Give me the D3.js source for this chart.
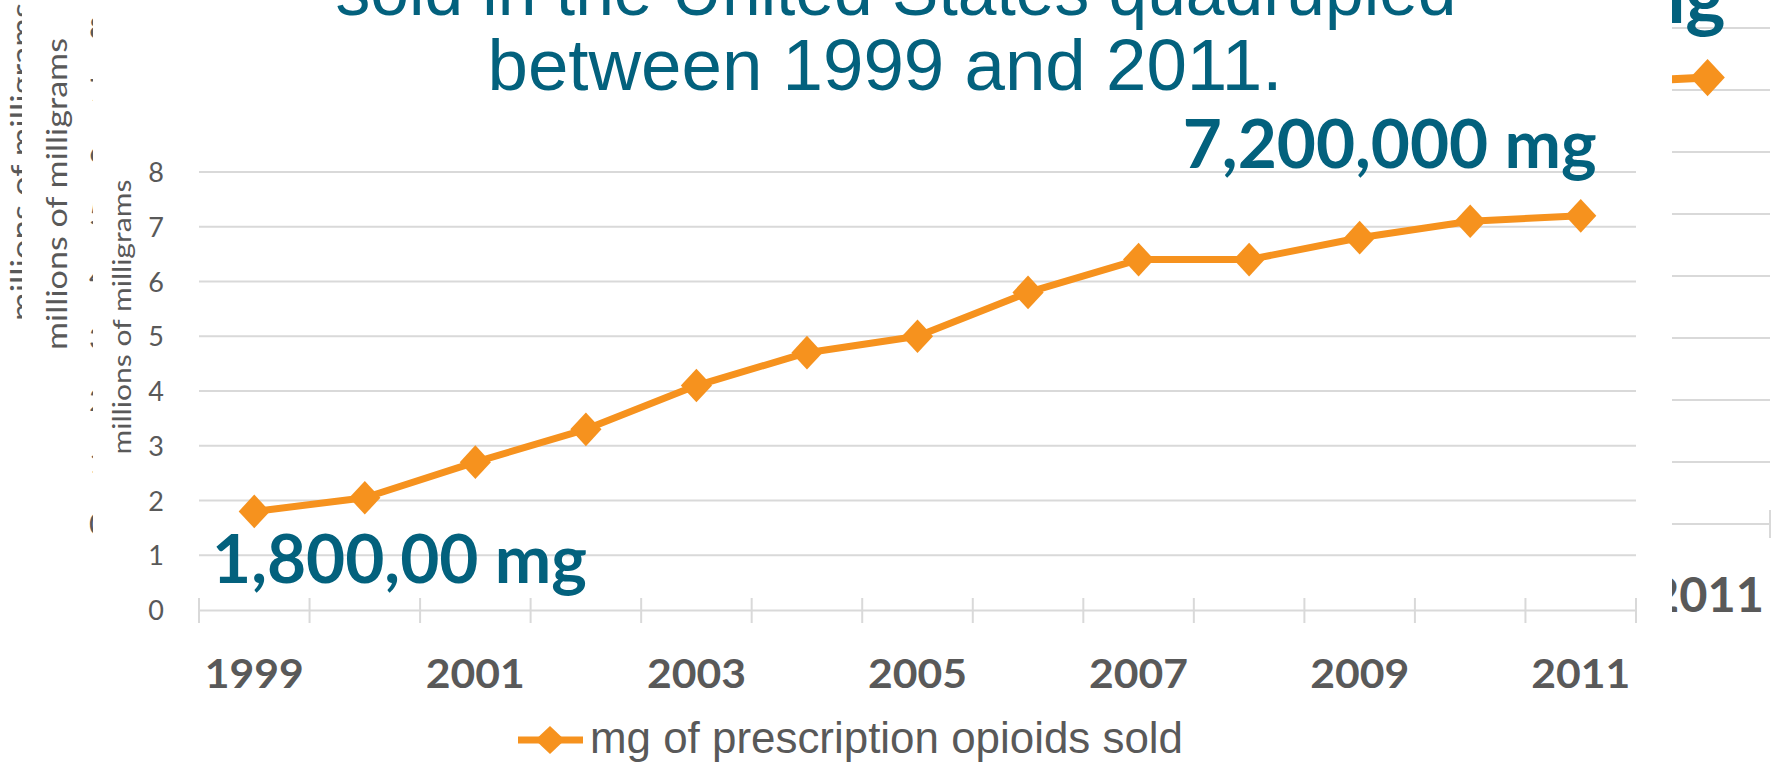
<!DOCTYPE html>
<html><head><meta charset="utf-8">
<script src="https://cdn.jsdelivr.net/npm/d3@7"></script>
<style>html,body{margin:0;padding:0;background:#fff;overflow:hidden}</style>
</head><body>
<svg id="c" width="1781" height="765"></svg>
<script>
// ---- data ----
const years = [1999,2000,2001,2002,2003,2004,2005,2006,2007,2008,2009,2010,2011];
const mgSold = [1.8,2.05,2.7,3.3,4.1,4.7,5.0,5.8,6.4,6.4,6.8,7.1,7.2];
const yTicks = [0,1,2,3,4,5,6,7,8];
const labeledYears = [1999,2001,2003,2005,2007,2009,2011];
const titleLines = ["sold in the United States quadrupled","between 1999 and 2011."];
const startLabel = "1,800,00 mg";
const endLabel = "7,200,000 mg";
const seriesName = "mg of prescription opioids sold";
const axisTitle = "millions of milligrams";

const data = years.map((yr,i)=>({year:yr, v:mgSold[i]}));
const TEAL = "#03617d", ORANGE = "#f6921e", GRAY = "#595959", GRID = "#d9d9d9";
const svg = d3.select("#c");
const defs = svg.append("defs");
defs.append("clipPath").attr("id","clipL3").append("rect").attr("x",0).attr("y",0).attr("width",22).attr("height",765);
defs.append("clipPath").attr("id","clipL").append("rect").attr("x",0).attr("y",0).attr("width",93).attr("height",765);
defs.append("clipPath").attr("id","clipR").append("rect").attr("x",1672).attr("y",0).attr("width",109).attr("height",765);

function diamond(sel, size){
  return sel.append("path").attr("d", d3.symbol(d3.symbolDiamond2, size)()).attr("fill", ORANGE);
}

// ---- ghost layers (an enlarged copy of the same chart behind the main one) ----
const G = 1.13;
const yG = d3.scaleLinear().domain([0,8]).range([524,28]);
const xG = d3.scaleBand().domain(years).range([1770-13*110.5*G,1770]);

svg.append("g").attr("clip-path","url(#clipL3)").append("text")
  .attr("transform","translate(33,162) rotate(-90)").attr("text-anchor","middle")
  .attr("font-family","Lato").attr("font-size",31).attr("fill",GRAY)
  .attr("textLength",318).attr("lengthAdjust","spacingAndGlyphs").text(axisTitle);

const gl = svg.append("g").attr("clip-path","url(#clipL)");
gl.append("text").attr("transform","translate(67,194) rotate(-90)").attr("text-anchor","middle")
  .attr("font-family","Lato").attr("font-size",28).attr("fill",GRAY)
  .attr("textLength",312).attr("lengthAdjust","spacingAndGlyphs").text(axisTitle);
gl.selectAll("text.gt").data(yTicks).join("text").attr("class","gt")
  .attr("x",107).attr("y",d=>yG(d)).attr("dy","0.36em").attr("text-anchor","end")
  .attr("font-family","Lato").attr("font-size",31).attr("fill",GRAY).text(d=>d);

const gr = svg.append("g").attr("clip-path","url(#clipR)");
gr.selectAll("line.gg").data(yTicks).join("line").attr("class","gg")
  .attr("x1",1660).attr("x2",xG.range()[1]).attr("y1",d=>yG(d)).attr("y2",d=>yG(d))
  .attr("stroke",GRID).attr("stroke-width",2);
gr.selectAll("line.gtk").data(years.map(d=>xG(d)).concat([xG.range()[1]])).join("line").attr("class","gtk")
  .attr("x1",d=>d).attr("x2",d=>d).attr("y1",yG(0)-14).attr("y2",yG(0)+14).attr("stroke",GRID).attr("stroke-width",2);
gr.append("path").datum(data)
  .attr("d", d3.line().x(d=>xG(d.year)+xG.bandwidth()/2).y(d=>yG(d.v)))
  .attr("fill","none").attr("stroke",ORANGE).attr("stroke-width",8);
gr.selectAll("g.gd").data(data).join("g").attr("class","gd")
  .attr("transform",d=>`translate(${xG(d.year)+xG.bandwidth()/2},${yG(d.v)}) scale(1,1.08)`)
  .each(function(){ diamond(d3.select(this), 760); });
gr.append("text").attr("x",xG(2011)+xG.bandwidth()/2+18).attr("y",yG(8)-5).attr("text-anchor","end")
  .attr("font-family","Lato").attr("font-weight","bold").attr("font-size",75).attr("fill",TEAL)
  .attr("textLength",468).attr("lengthAdjust","spacingAndGlyphs").text(endLabel);
gr.selectAll("text.gx").data(labeledYears).join("text").attr("class","gx")
  .attr("x",d=>xG(d)+xG.bandwidth()/2).attr("y",yG(0)+88).attr("text-anchor","middle")
  .attr("font-family","Lato").attr("font-weight","bold").attr("font-size",47).attr("fill",GRAY)
  .attr("textLength",113).attr("lengthAdjust","spacingAndGlyphs").text(d=>d);

// ---- main chart ----
const x = d3.scaleBand().domain(years).range([199,1636]);
const y = d3.scaleLinear().domain([0,8]).range([610,172]);
const cx = d => x(d)+x.bandwidth()/2;
const m = svg.append("g");

m.selectAll("line.grid").data(yTicks.filter(d=>d>0)).join("line").attr("class","grid")
  .attr("x1",x.range()[0]).attr("x2",x.range()[1]).attr("y1",d=>y(d)).attr("y2",d=>y(d))
  .attr("stroke",GRID).attr("stroke-width",2);
const xAxis = d3.axisBottom(x).tickValues([]).tickSizeOuter(0);
const ax = m.append("g").attr("transform",`translate(0,${y(0)})`).call(xAxis);
ax.select(".domain").attr("stroke",GRID).attr("stroke-width",2);
const bounds = years.map(d=>x(d)).concat([x.range()[1]]);
m.selectAll("line.xt").data(bounds).join("line").attr("class","xt")
  .attr("x1",d=>d).attr("x2",d=>d).attr("y1",y(0)-12).attr("y2",y(0)+13)
  .attr("stroke",GRID).attr("stroke-width",2);
m.selectAll("text.xl").data(labeledYears).join("text").attr("class","xl")
  .attr("x",d=>cx(d)).attr("y",688).attr("text-anchor","middle")
  .attr("font-family","Lato").attr("font-weight","bold").attr("font-size",41).attr("fill",GRAY)
  .attr("textLength",99).attr("lengthAdjust","spacingAndGlyphs").text(d=>d);
const yAxis = d3.axisLeft(y).tickValues(yTicks).tickSize(0).tickPadding(0);
const ay = m.append("g").attr("transform","translate(164,0)").call(yAxis);
ay.select(".domain").remove();
ay.selectAll("text").attr("font-family","Lato").attr("font-size",27).attr("fill",GRAY).attr("dy","0.36em");
m.append("text").attr("transform","translate(131,317) rotate(-90)").attr("text-anchor","middle")
  .attr("font-family","Lato").attr("font-size",25).attr("fill",GRAY)
  .attr("textLength",275).attr("lengthAdjust","spacingAndGlyphs").text(axisTitle);

m.append("path").datum(data)
  .attr("d", d3.line().x(d=>cx(d.year)).y(d=>y(d.v)))
  .attr("fill","none").attr("stroke",ORANGE).attr("stroke-width",7).attr("stroke-linejoin","round");
m.selectAll("g.pt").data(data).join("g").attr("class","pt")
  .attr("transform",d=>`translate(${cx(d.year)},${y(d.v)}) scale(1,1.08)`)
  .each(function(){ diamond(d3.select(this), 620); });

m.append("text").attr("x",x.range()[0]+13).attr("y",y(0.5))
  .attr("font-family","Lato").attr("font-weight","bold").attr("font-size",66).attr("fill",TEAL)
  .attr("textLength",375).attr("lengthAdjust","spacingAndGlyphs").text(startLabel);
m.append("text").attr("x",cx(2011)+16).attr("y",y(8)-4).attr("text-anchor","end")
  .attr("font-family","Lato").attr("font-weight","bold").attr("font-size",66).attr("fill",TEAL)
  .attr("textLength",414).attr("lengthAdjust","spacingAndGlyphs").text(endLabel);

// legend
const lg = m.append("g").attr("transform","translate(518,740)");
lg.append("line").attr("x1",0).attr("x2",65).attr("y1",0).attr("y2",0).attr("stroke",ORANGE).attr("stroke-width",7);
lg.append("g").attr("transform","translate(32,0) scale(1,0.95)").each(function(){ diamond(d3.select(this), 560); });
lg.append("text").attr("x",72).attr("y",13).attr("font-family","Liberation Sans").attr("font-size",44)
  .attr("fill",GRAY).attr("textLength",593).attr("lengthAdjust","spacingAndGlyphs").text(seriesName);

// title
svg.selectAll("text.title").data(titleLines).join("text").attr("class","title")
  .attr("x",(d,i)=>i===0?896:885).attr("y",(d,i)=>i===0?15:90).attr("text-anchor","middle")
  .attr("font-family","Liberation Sans").attr("font-size",72).attr("fill",TEAL)
  .attr("textLength",(d,i)=>i===0?1121:795).attr("lengthAdjust","spacingAndGlyphs").text(d=>d);
</script>
</body></html>
